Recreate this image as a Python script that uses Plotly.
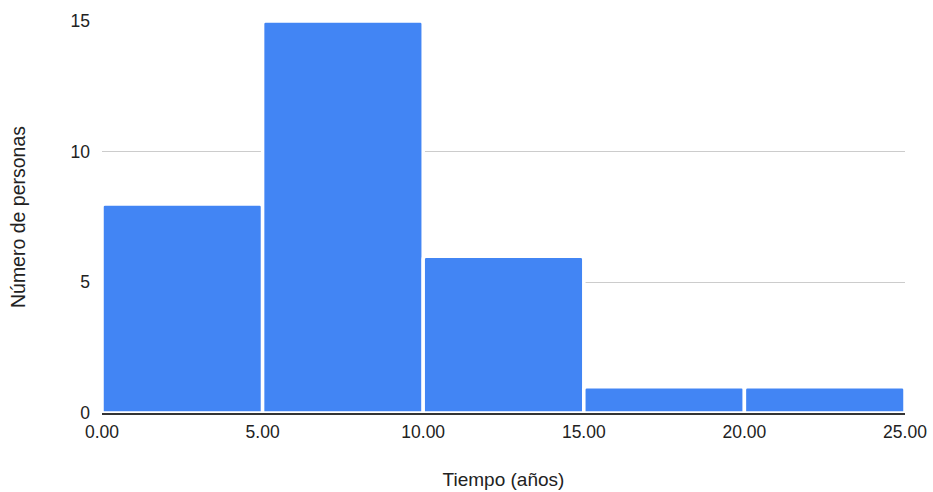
import plotly.graph_objects as go

bin_starts = [0, 5, 10, 15, 20]
bin_width = 5
counts = [8, 15, 6, 1, 1]
x_ticks = [0, 5, 10, 15, 20, 25]
y_ticks = [0, 5, 10, 15]

centers = [s + bin_width / 2 for s in bin_starts]

fig = go.Figure()
fig.add_trace(go.Bar(
    x=centers, y=counts, width=[bin_width] * len(counts),
    marker=dict(color="#4285F4", line=dict(color="white", width=3.5), cornerradius=3),
    hoverinfo="x+y",
))

font = "Liberation Sans, Arial, sans-serif"
fig.update_layout(
    width=933, height=492,
    margin=dict(l=102, r=28, t=21, b=79, autoexpand=False),
    plot_bgcolor="white", paper_bgcolor="white",
    showlegend=False,
    font=dict(family=font, size=17.5, color="#222"),
    xaxis=dict(
        range=[0, 25], tickvals=x_ticks, tickformat=".2f",
        showgrid=False, zeroline=False, automargin=False,
        showline=True, linecolor="#333", linewidth=1.5,
        ticks="", ticklabelstandoff=2, tickfont=dict(size=17.5),
        title=dict(text="Tiempo (años)", standoff=32, font=dict(size=19)),
    ),
    yaxis=dict(
        range=[0, 15], tickvals=y_ticks, automargin=False,
        showgrid=True, gridcolor="#cccccc", gridwidth=1,
        zeroline=False, showline=False, ticks="",
        ticklabelstandoff=11, tickfont=dict(size=17.5),
        title=dict(text="Número de personas", standoff=39, font=dict(size=19.5)),
    ),
)
fig.write_html("out.html")
